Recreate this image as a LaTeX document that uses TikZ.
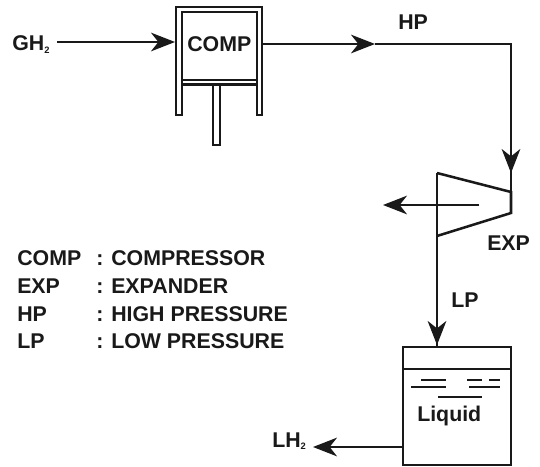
\documentclass[tikz,border=0pt]{standalone}
\usepackage{fontspec}
\setmainfont{Liberation Sans}
\usetikzlibrary{arrows.meta}
\tikzset{
  pipe/.style={line width=1.9pt,draw=black!90},
  wall/.style={line width=1.6pt,draw=black!90},
  thin wall/.style={line width=1.4pt,draw=black!90},
  txt/.style={font=\fontsize{16}{18}\selectfont\bfseries,inner sep=0pt,anchor=base west,text=black!90},
  head/.style={-{Stealth[inset=5.5pt,length=18pt,width=14pt,line width=1.3pt,sharp]}}
}
\newcommand{\subtwo}{\raisebox{-2pt}{\fontsize{7}{8}\selectfont 2}}
\begin{document}
\begin{tikzpicture}[x=0.75pt,y=-0.75pt]
\useasboundingbox (0,0) rectangle (540,467);
% compressor
\draw[wall] (176,115) -- (176,7) -- (262,7) -- (262,115) -- (257,115) -- (257,12) -- (182,12) -- (182,115) -- cycle;
\draw[wall] (182,80) -- (257,80) (182,84.5) -- (257,84.5);
\draw[wall] (213,84) -- (213,145) -- (220,145) -- (220,84);
\node[txt] (comp) at (187,52) {COMP};
\coordinate (cin) at (175,42);
\coordinate (cout) at (262,44);
% expander
\coordinate (exptop) at (511,192);
\coordinate (expleft) at (437,173);
\draw[pipe] (expleft) -- (exptop) -- (511,213) -- (437,236);
\coordinate (shaftA) at (479,205);
\coordinate (shaftB) at (383,205);
\draw[pipe,head] (shaftA) -- (shaftB);
% tank
\coordinate (tanktop) at (437,347);
\coordinate (tankout) at (403,447);
\coordinate (lhend) at (313,447);
\draw[wall] (403,347) rectangle (511,465);
\draw[thin wall] (403,369) -- (511,369);
\draw[thin wall] (421,380) -- (446,380) (411,387) -- (446,387) (467,380) -- (482,380) (489,380) -- (500,380) (469,387) -- (500,387) (438,397) -- (482,397);
\node[txt] (liq) at (417,421) {Liquid};
% connectors
\node[txt] (gh) at (12,51) {GH\subtwo};
\coordinate (ghend) at (57,42);
\draw[pipe,head] (ghend) -- (cin);
\coordinate (hptip) at (375,44);
\coordinate (corner) at (511,44);
\coordinate (vtip) at (511,173);
\draw[pipe,head] (cout) -- (hptip);
\draw[pipe] (hptip) -- (corner) -- (exptop);
\draw[pipe,head] (corner) -- (vtip);
\draw[pipe] (expleft) -- (tanktop);
\coordinate (lptip) at (437,345);
\draw[pipe,head] (expleft) -- (lptip);
\draw[pipe,head] (tankout) -- (lhend);
% labels
\node[txt] at (398,30) {HP};
\node[txt] at (487,250) {EXP};
\node[txt] at (451,307) {LP};
\node[txt] at (272,447) {LH\subtwo};
\node[txt] at (17,266) {COMP};
\node[txt] at (17,293) {EXP};
\node[txt] at (17,321) {HP};
\node[txt] at (17,349) {LP};
\node[txt] at (96,266) {: COMPRESSOR};
\node[txt] at (96,293) {: EXPANDER};
\node[txt] at (96,321) {: HIGH PRESSURE};
\node[txt] at (96,349) {: LOW PRESSURE};
\end{tikzpicture}
\end{document}
